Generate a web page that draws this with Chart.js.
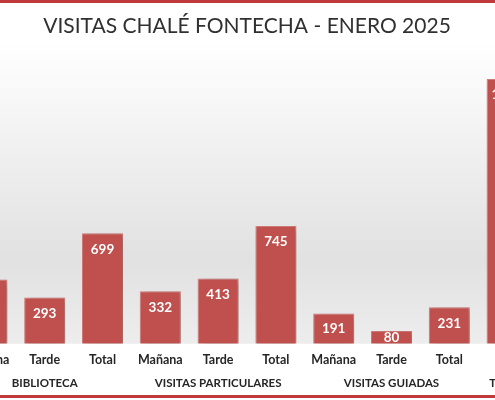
<!DOCTYPE html>
<html>
<head>
<meta charset="utf-8">
<script src="https://cdn.jsdelivr.net/npm/chart.js@4.4.1/dist/chart.umd.min.js"></script>
<style>
html,body{margin:0;padding:0;background:#fff;}
#frame{position:relative;width:495px;height:400px;overflow:hidden;background:#fff;}
#wrap{position:absolute;left:-60px;top:0;width:615px;height:400px;}
.line{position:absolute;left:0;width:495px;height:3px;background:#c0393a;}
</style>
</head>
<body>
<div id="frame">
  <div id="wrap"><canvas id="c"></canvas></div>
  <div class="line" style="top:0;"></div>
  <div class="line" style="top:395px;"></div>
</div>
<script>
const titleText = 'VISITAS CHALÉ FONTECHA - ENERO 2025';
const categories = ['Mañana','Tarde','Total','Mañana','Tarde','Total','Mañana','Tarde','Total',''];
const groups = ['BIBLIOTECA','VISITAS PARTICULARES','VISITAS GUIADAS','TOTAL'];
const groupSizes = [3,3,3,1];
const values = [406,293,699,332,413,745,191,80,231,1675];

const groupLabels = [];
groups.forEach((g,i)=>{
  const n = groupSizes[i];
  for(let k=0;k<n;k++) groupLabels.push(k===Math.floor(n/2)?g:'');
});

const bgPlugin = {
  id:'bg',
  beforeDraw(chart){
    const {ctx, chartArea, width} = chart;
    const top = 42, bottom = chartArea.bottom;
    const g = ctx.createLinearGradient(0,top,0,bottom);
    g.addColorStop(0,'#ffffff');
    g.addColorStop(0.72,'#e1e1e1');
    g.addColorStop(1,'#ededed');
    ctx.save();
    ctx.fillStyle = g;
    ctx.fillRect(0,top,width,bottom-top);
    ctx.restore();
  }
};
const shadowPlugin = {
  id:'shadow',
  beforeDatasetsDraw(chart){
    const ctx = chart.ctx;
    ctx.save();
    ctx.shadowColor='rgba(0,0,0,0.28)';
    ctx.shadowBlur=7;
    ctx.shadowOffsetX=3;
    ctx.shadowOffsetY=2;
  },
  afterDatasetsDraw(chart){
    chart.ctx.restore();
  }
};
const labelPlugin = {
  id:'vlabels',
  afterDatasetsDraw(chart){
    const ctx = chart.ctx;
    const meta = chart.getDatasetMeta(0);
    ctx.save();
    ctx.fillStyle='#ffffff';
    ctx.font='bold 13.5px Lato';
    ctx.textAlign='center';
    ctx.textBaseline='middle';
    meta.data.forEach((bar,i)=>{
      const y = Math.min(bar.y+16,(bar.y+bar.base)/2);
      ctx.fillText(String(values[i]), bar.x, y);
    });
    ctx.restore();
  }
};

new Chart(document.getElementById('c'),{
  type:'bar',
  data:{labels:categories,datasets:[{
    data:values,
    backgroundColor:'#c0504d',
    borderColor:'#d47f7c',
    borderWidth:{top:1,left:1,right:1,bottom:0},
    categoryPercentage:1,
    barPercentage:0.71
  }]},
  options:{
    responsive:true,maintainAspectRatio:false,animation:false,
    layout:{padding:{left:18,right:19,top:0,bottom:10}},
    plugins:{
      legend:{display:false},
      tooltip:{enabled:false},
      title:{display:true,text:titleText,color:'#303030',
        font:{family:'Lato',size:21,weight:'normal'},padding:{top:14,bottom:20}}
    },
    scales:{
      y:{display:false,min:0,max:1800},
      x:{grid:{display:false},border:{display:false},
        ticks:{color:'#262626',font:{family:'Lato',size:12.5,weight:'bold',lineHeight:1},padding:2,maxRotation:0,minRotation:0,autoSkip:false}},
      x2:{type:'category',labels:groupLabels,position:'bottom',offset:true,
        grid:{display:false},border:{display:false},
        ticks:{color:'#262626',font:{family:'Lato',size:11.5,weight:'bold'},padding:0,maxRotation:0,minRotation:0,autoSkip:false}}
    }
  },
  plugins:[bgPlugin,shadowPlugin,labelPlugin]
});
</script>
</body>
</html>
